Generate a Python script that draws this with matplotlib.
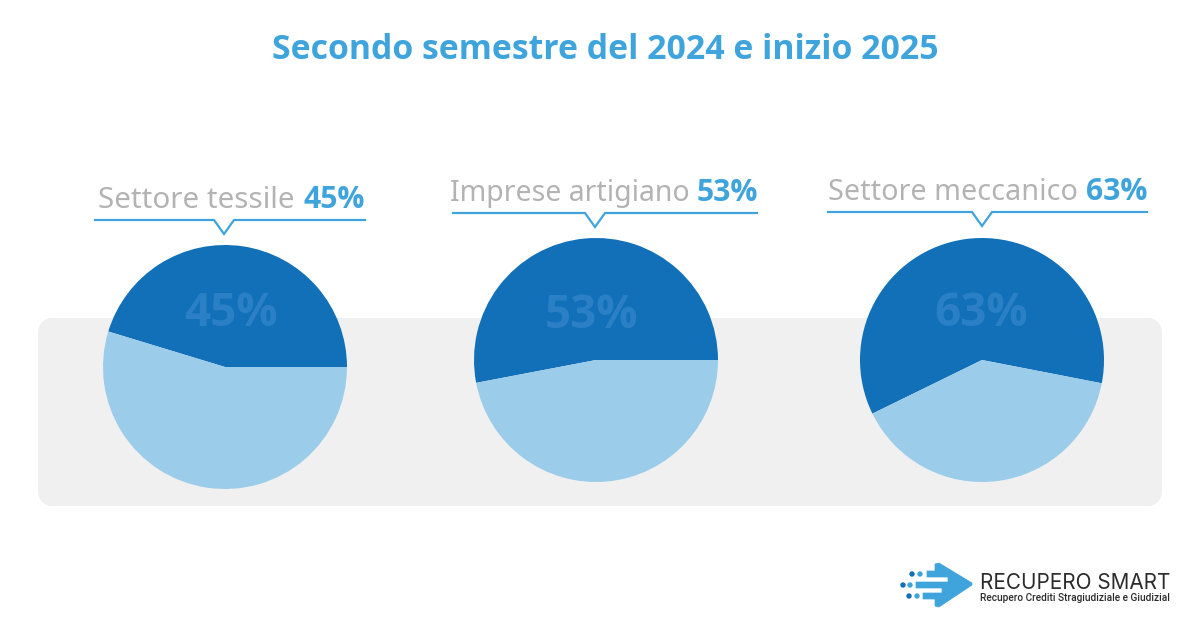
import matplotlib
matplotlib.use("Agg")
import matplotlib.pyplot as plt
from matplotlib.patches import FancyBboxPatch, Polygon, Circle, Rectangle

plt.rcParams['font.family'] = ['Noto Sans', 'DejaVu Sans']

title = "Secondo semestre del 2024 e inizio 2025"
labels = ["Settore tessile", "Imprese artigiano", "Settore meccanico"]
percent_labels = ["45%", "53%", "63%"]
dark_share = [45.3, 53, 60.3]
light_share = [54.7, 47, 39.7]
start_angles = [0, 0, -11]
pie_x = [225, 596, 982]
pie_y = [367, 360, 360]
radius = 122

BLUE = '#3fa4dc'
DARK = '#1170b8'
LIGHT = '#9bcdea'
GREY = '#b3b3b3'
INNER = '#2b80c5'
BOLD = ['Open Sans', 'DejaVu Sans']

fig = plt.figure(figsize=(12, 6.27), dpi=100)
ax = fig.add_axes([0, 0, 1, 1])


def py(y):
    # pixel rows count from the top
    return 627 - y


ax.add_patch(FancyBboxPatch((38, py(506)), 1124, 188, boxstyle="round,pad=0,rounding_size=16",
                            fc='#f0f0f0', ec='none', lw=0, zorder=0))

ax.text(605, py(50), title, color=BLUE, fontsize=24.4, fontweight='bold', family=BOLD, ha='center', va='center')

# header text + line with a small notch above each pie
text_y = [200, 193, 192]
text_size = [21.3, 20.5, 20.7]
line_y = [220, 213, 212]
line_x0 = [95, 453, 828]
line_x1 = [365, 757, 1147]
notch_x = [224, 595, 982]
name_right = [295, 690, 1078]
pct_left = [303, 697, 1086]
inner_x = [231, 592, 981]
inner_y = [313, 316, 313]

for i in range(3):
    ax.text(name_right[i], py(text_y[i]), labels[i], color=GREY, fontsize=text_size[i], ha='right', va='center')
    ax.text(pct_left[i], py(text_y[i]), percent_labels[i], color=BLUE, fontsize=21.7, fontweight='bold',
            family=BOLD, ha='left', va='center')
    n = notch_x[i]
    ax.plot([line_x0[i], n - 10, n, n + 10, line_x1[i]],
            [py(line_y[i]), py(line_y[i]), py(line_y[i] + 14), py(line_y[i]), py(line_y[i])],
            color=BLUE, lw=1.6, solid_joinstyle='miter', zorder=2)

    ax.pie([dark_share[i], light_share[i]], colors=[DARK, LIGHT], startangle=start_angles[i],
           center=(pie_x[i], py(pie_y[i])), radius=radius, wedgeprops={'linewidth': 0}, frame=True)
    ax.text(inner_x[i], py(inner_y[i]), percent_labels[i], color=INNER, fontsize=33, fontweight='bold',
            family=BOLD, ha='center', va='center', zorder=5)

# logo
ax.add_patch(Polygon([(935, py(564)), (939, py(563)), (972, py(583)), (972, py(585)), (939, py(607)), (935, py(606)),
                      (935, py(599)), (923, py(599)), (923, py(593)), (942, py(593)), (942, py(588)),
                      (916, py(588)), (916, py(582)), (948, py(582)), (948, py(577)), (927, py(577)),
                      (927, py(571)), (935, py(571))], fc=BLUE, ec=BLUE, lw=0.5, joinstyle='round', zorder=3))
dot_x = [912, 920, 903, 910, 909, 917]
dot_y = [574, 574, 585, 585, 596, 596]
dot_c = [DARK, BLUE, DARK, BLUE, DARK, BLUE]
for x, y, c in zip(dot_x, dot_y, dot_c):
    ax.add_patch(Circle((x, py(y)), 2.7, fc=c, ec='none', zorder=3))

ax.text(980, py(583), "RECUPERO SMART", color='#2b2b2b', fontsize=14.9, family=['Inter', 'DejaVu Sans'],
        ha='left', va='center')
sub = ax.text(980, py(598), "Recupero Crediti Stragiudiziale e Giudiziale", color='#2b2b2b', fontsize=7.3,
              family=['Roboto', 'DejaVu Sans'], fontweight='medium', ha='left', va='center', clip_on=True)
sub.set_clip_path(Rectangle((980, py(610)), 190, 24, transform=ax.transData))

ax.set_xlim(0, 1200)
ax.set_ylim(0, 627)
ax.set_aspect('auto')
ax.axis('off')

fig.savefig('out.png', dpi=100, facecolor='white')
